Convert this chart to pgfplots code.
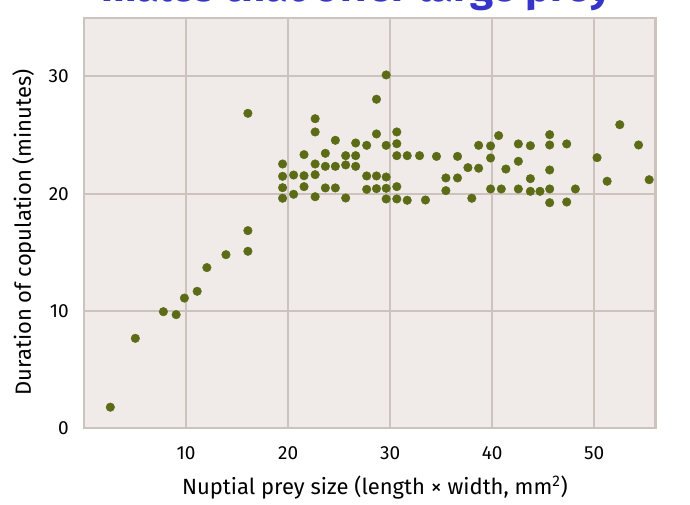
\documentclass[border=0pt]{standalone}
\usepackage{fontspec}
\setmainfont{Fira Sans}
\usepackage{pgfplots}
\pgfplotsset{compat=1.18}

\definecolor{dotgreen}{RGB}{92,107,21}
\definecolor{panelbg}{RGB}{240,235,233}
\definecolor{gridc}{RGB}{205,195,190}
\definecolor{titleblue}{RGB}{53,53,200}

\begin{document}
\begin{tikzpicture}
\begin{axis}[
    scale only axis,
    width=571.5pt,
    height=410.6pt,
    xmin=0, xmax=56,
    ymin=0, ymax=35,
    xtick={10,20,30,40,50},
    ytick={0,10,20,30},
    major tick length=0pt,
    grid=major,
    major grid style={line width=1.8pt, draw=gridc},
    axis line style={line width=2.2pt, draw=gridc},
    axis background/.style={fill=panelbg},
    /pgf/number format/assume math mode=true,
    tick label style={font=\fontsize{19}{22}\selectfont, text=black},
    xticklabel style={anchor=north, inner sep=0pt, yshift=-18pt},
    yticklabel style={anchor=east, inner sep=0pt, xshift=-15pt},
    label style={font=\fontsize{22}{26}\selectfont},
    xlabel={Nuptial prey size (length × width, mm\textsuperscript{2})},
    ylabel={Duration of copulation (minutes)},
    xlabel style={at={(axis description cs:0.509,-0.1437)}, anchor=center},
    ylabel style={at={(axis description cs:-0.105,0.477)}, anchor=center, rotate=0},
    clip=false,
]
\addplot[only marks, mark=*, mark size=4.3pt, color=dotgreen, mark options={draw=none, fill=dotgreen}]
coordinates {
(2.58,1.8) (5.03,7.67) (7.78,9.94) (9.03,9.69) (9.84,11.1) (11.09,11.68)
(12.04,13.7) (13.91,14.8) (16.06,15.09) (16.06,16.85) (16.06,26.85)
(19.46,22.53) (19.46,21.48) (19.46,20.51) (19.46,19.61)
(20.54,21.59) (20.54,19.95)
(21.56,23.33) (21.56,21.53) (21.56,20.6)
(22.65,26.39) (22.65,25.26) (22.65,22.53) (22.65,21.62) (22.65,19.74)
(23.65,23.44) (23.65,22.33) (23.65,20.49)
(24.63,24.55) (24.63,22.33) (24.63,20.49)
(25.64,23.24) (25.64,22.45) (25.64,19.63)
(26.62,24.32) (26.62,23.24) (26.62,22.33)
(27.70,24.12) (27.70,21.51) (27.70,20.37)
(28.66,28.05) (28.66,25.09) (28.66,21.51) (28.66,20.43)
(29.61,30.12) (29.61,24.12) (29.61,21.42) (29.61,20.46) (29.61,19.55)
(30.65,25.26) (30.65,24.26) (30.65,23.24) (30.65,20.6) (30.65,19.55)
(31.67,23.24) (31.67,19.44)
(32.88,23.24) (33.46,19.46) (34.54,23.18)
(35.46,21.34) (35.46,20.26)
(36.6,23.18) (36.6,21.34)
(37.62,22.22) (38.0,19.61)
(38.67,24.12) (38.67,22.17)
(39.84,24.07) (39.84,23.04) (39.84,20.4)
(40.63,24.95) (40.89,20.4) (41.34,22.1)
(42.56,24.24) (42.56,22.76) (42.56,20.4)
(43.74,24.09) (43.74,21.28) (43.74,20.2)
(44.68,20.2)
(45.63,25.03) (45.63,24.15) (45.63,22.02) (45.63,20.4) (45.63,19.23)
(47.30,24.24) (47.30,19.29)
(48.15,20.4)
(50.27,23.07) (51.26,21.06) (52.50,25.88) (54.34,24.15) (55.38,21.19)
};
\node[anchor=base, font=\fontsize{42}{46}\selectfont\bfseries, text=titleblue]
  at (axis description cs:0.476,1.04) {males that offer large prey};
\coordinate (bl) at (axis description cs:0,0);
\end{axis}
\pgfresetboundingbox
\useasboundingbox ([xshift=-84pt,yshift=-75.7pt]bl) rectangle ([xshift=606pt,yshift=428.3pt]bl);
\end{tikzpicture}
\end{document}
